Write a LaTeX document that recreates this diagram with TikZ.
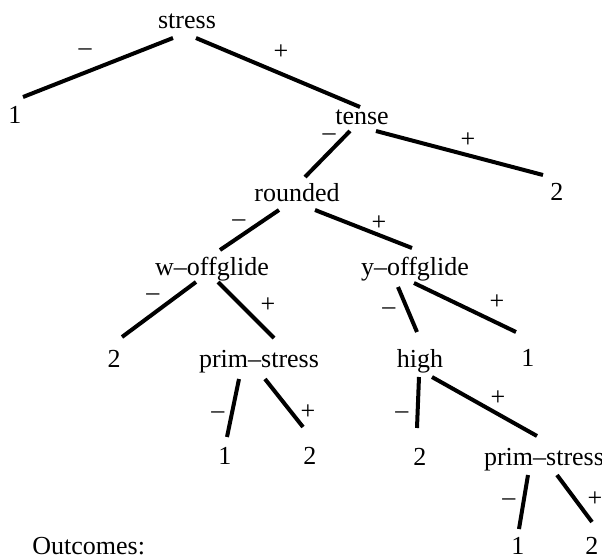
\documentclass[tikz,border=0pt]{standalone}
\usepackage{fontspec}
\setmainfont{Liberation Serif}
\usepackage{tikz}
\tikzstyle{branch} = [line width=2pt]
\tikzstyle{lab} = [inner sep=0pt,anchor=base,font=\fontsize{13}{15}\selectfont]
\tikzstyle{sign} = [inner sep=0pt,font=\fontsize{13}{15}\selectfont]

\begin{document}
\begin{tikzpicture}[x=0.5pt,y=-0.5pt]
		\useasboundingbox (0,0) rectangle (602,558);
		% features
		\node[lab] (stress) at (187,28) {stress};
		\node[lab] (tense) at (362,124) {tense};
		\node[lab] (rounded) at (297,201) {rounded};
		\node[lab] (woff) at (212,275) {w–offglide};
		\node[lab] (yoff) at (415,275) {y–offglide};
		\node[lab] (primA) at (259,367) {prim–stress};
		\node[lab] (high) at (420,367) {high};
		\node[lab] (primB) at (544,465) {prim–stress};
		% outcomes
		\node[lab] (oneA) at (15,123) {1};
		\node[lab] (twoA) at (557,200) {2};
		\node[lab] (twoB) at (114,367) {2};
		\node[lab] (oneB) at (528,366) {1};
		\node[lab] (oneC) at (225,464) {1};
		\node[lab] (twoC) at (310,464) {2};
		\node[lab] (twoD) at (420,465) {2};
		\node[lab] (oneD) at (518,554) {1};
		\node[lab] (twoE) at (592,554) {2};
		\node[lab,anchor=base west] (outc) at (32,554) {Outcomes:};
		% branches
		\foreach \A/\Ax/\Ay/\B/\Bx/\By in
		{stress/-14/10/oneA/8/-26, stress/9/10/tense/-2/-17,
		 tense/-12/7/rounded/8/-24, tense/14/7/twoA/-14/-25,
		 rounded/-18/9/woff/8/-25, rounded/18/9/yoff/-3/-27,
		 woff/-16/7/twoB/8/-30, woff/6/7/primA/15/-29,
		 yoff/-17/12/high/-3/-35, yoff/-1/8/oneB/-12/-34,
		 primA/-20/12/oneC/2/-27, primA/6/12/twoC/-7/-37,
		 high/-1/10/twoD/-3/-37, high/12/10/primB/-7/-29,
		 primB/-16/10/oneD/1/-25, primB/13/10/twoE/0/-32}
		{
			\draw[branch]
			([shift={(\Ax,\Ay)}]\A.base) -- ([shift={(\Bx,\By)}]\B.base);
		}
		% signs on the branches
		\foreach \Xs/\Ys/\Signo [count=\i] in
		{85/52/–, 281/52/+, 329/137/–, 468/140/+, 239/223/–, 379/223/+,
		 153/297/–, 268/305/+, 389/311/–, 497/302/+, 218/415/–, 308/412/+,
		 402/415/–, 498/398/+, 509/502/–, 595/499/+}
		{
			\node[sign] (sg\i) at (\Xs,\Ys) {\Signo};
		}
\end{tikzpicture}
\end{document}
